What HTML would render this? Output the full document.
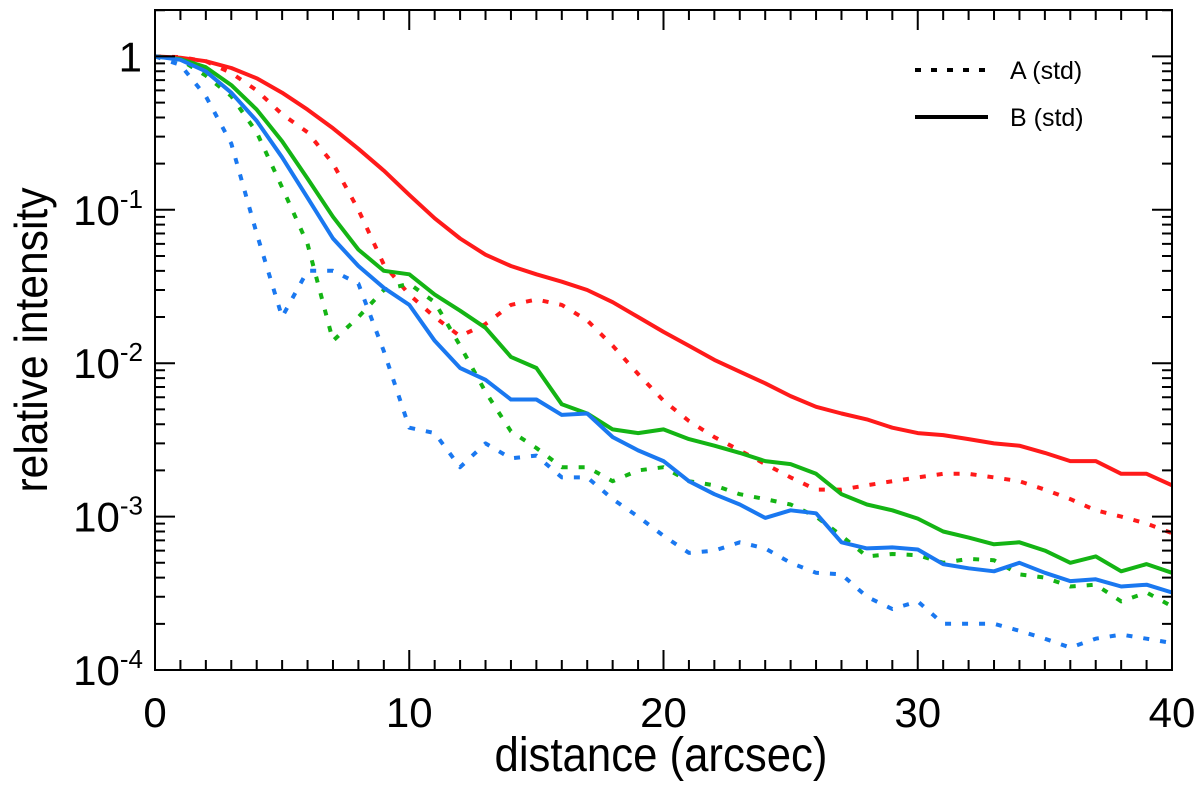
<!DOCTYPE html>
<html><head><meta charset="utf-8"><style>
html,body{margin:0;padding:0;background:#fff;}
svg text{font-family:"Liberation Sans",sans-serif;fill:#000;}
</style></head><body>
<svg id="chart" width="1200" height="784" xmlns="http://www.w3.org/2000/svg">
<g id="series"></g>
<g id="axes"></g>
<g id="legend">
  <line x1="915" y1="70" x2="988" y2="70" stroke="#000" stroke-width="4" stroke-dasharray="6,10"/>
  <text x="1010" y="79" font-size="25">A (std)</text>
  <line x1="915" y1="117" x2="988" y2="117" stroke="#000" stroke-width="4"/>
  <text x="1010" y="126" font-size="25">B (std)</text>
</g>
<text x="661" y="771" font-size="48" text-anchor="middle" textLength="333" lengthAdjust="spacingAndGlyphs">distance (arcsec)</text>
<text transform="translate(47,340) rotate(-90)" font-size="46" text-anchor="middle" textLength="305" lengthAdjust="spacingAndGlyphs">relative intensity</text>
</svg>
<script>
const xs = [];
for (let i = 0; i <= 40; i++) xs.push(i);
const redSolid = [1,.98,.93,.84,.72,.58,.45,.34,.25,.18,.125,.088,.065,.051,.043,.038,.034,.030,.025,.020,.016,.013,.0105,.0088,.0074,.0061,.0052,.0047,.0043,.0038,.0035,.0034,.0032,.003,.0029,.0026,.0023,.0023,.0019,.0019,.0016];
const redDotted = [1,.99,.93,.78,.6,.42,.32,.2,.1,.044,.028,.02,.015,.018,.024,.026,.024,.019,.013,.0085,.0057,.0042,.0033,.0027,.0022,.0018,.0015,.0015,.0016,.0017,.0018,.0019,.0019,.0018,.0017,.0015,.0013,.0011,.001,.0009,.00078];
const greenSolid = [1,.96,.85,.65,.45,.28,.16,.09,.055,.04,.038,.028,.022,.017,.011,.0093,.0054,.0047,.0037,.0035,.0037,.0032,.0029,.0026,.0023,.0022,.0019,.0014,.0012,.0011,.00097,.0008,.00073,.00066,.00068,.0006,.0005,.00055,.00044,.00049,.00043];
const greenDotted = [1,.95,.75,.55,.32,.14,.06,.014,.02,.03,.033,.025,.013,.0065,.0036,.0028,.0021,.0021,.0017,.002,.0021,.0017,.0016,.0014,.0013,.0012,.001,.00075,.00055,.00057,.00056,.0005,.00053,.00052,.00042,.0004,.00035,.00036,.00028,.00032,.00026];
const blueSolid = [1,.95,.8,.58,.38,.22,.12,.065,.043,.031,.024,.014,.0093,.0078,.0058,.0058,.0046,.0047,.0033,.0027,.0023,.0017,.0014,.0012,.00098,.0011,.00105,.00068,.00062,.00063,.00061,.00049,.00046,.00044,.0005,.00043,.00038,.00039,.00035,.00036,.00032];
const blueDotted = [1,.88,.55,.27,.07,.02,.04,.04,.033,.012,.0038,.0035,.0021,.003,.0024,.0025,.0018,.0018,.0013,.001,.00075,.00058,.0006,.00068,.00062,.0005,.00043,.00042,.0003,.00025,.00028,.0002,.0002,.0002,.00018,.00016,.00014,.00016,.00017,.00016,.00015];
const xTicks = [0,10,20,30,40];
const yTicks = [0,-1,-2,-3,-4];

const L=155,R=1172,T=10,B=670;
const xScale = v => L + (v/40)*(R-L);
const yScale = v => 56.4 - 153.4*Math.log10(v);
const NS="http://www.w3.org/2000/svg";
function mk(tag, parent){const e=document.createElementNS(NS,tag);parent.appendChild(e);return e;}

const sg=document.getElementById('series');
function drawSeries(vals, color, dotted, name){
  const p=mk('path',sg);
  
  
  p.setAttribute('d', vals.map((v,i)=>(i?'L':'M')+xScale(xs[i]).toFixed(1)+','+yScale(v).toFixed(1)).join(''));
  p.setAttribute('fill','none');
  p.setAttribute('stroke',color);
  p.setAttribute('stroke-width','4');
  p.setAttribute('stroke-linejoin','round');
  if(dotted) p.setAttribute('stroke-dasharray','6,11');
}
drawSeries(redDotted,'#ff1a1a',true,'red-a-line');
drawSeries(greenDotted,'#14b414',true,'green-a-line');
drawSeries(blueDotted,'#1a78f0',true,'blue-a-line');
drawSeries(redSolid,'#ff1a1a',false,'red-b-line');
drawSeries(greenSolid,'#14b414',false,'green-b-line');
drawSeries(blueSolid,'#1a78f0',false,'blue-b-line');

const ag=document.getElementById('axes');
const fr=mk('rect',ag);


fr.setAttribute('x',L);fr.setAttribute('y',T);fr.setAttribute('width',R-L);fr.setAttribute('height',B-T);
fr.setAttribute('fill','none');fr.setAttribute('stroke','#000');fr.setAttribute('stroke-width','2');
let d='';
for(let i=0;i<=40;i++){
  const x=xScale(i), len=(i%10===0)?20:10;
  d+=`M${x},${B}v${-len}M${x},${T}v${len}`;
}
for(let e=0;e>=-4;e--){
  for(let m=1;m<=9;m++){
    const val=m*Math.pow(10,e);
    const y=yScale(val); if(y<T||y>B) continue;
    const len=(m===1)?20:10;
    d+=`M${L},${y}h${len}M${R},${y}h${-len}`;
  }
}
const tk=mk('path',ag);


tk.setAttribute('d',d);tk.setAttribute('stroke','#000');tk.setAttribute('stroke-width','2');

xTicks.forEach(v=>{
  const t=mk('text',ag);
  
  
  t.setAttribute('x',xScale(v));t.setAttribute('y',727);
  t.setAttribute('font-size','42');t.setAttribute('text-anchor','middle');
  t.textContent=v;
});
yTicks.forEach(e=>{
  const t=mk('text',ag);
  
  
  const y=yScale(Math.pow(10,e))+15;
  t.setAttribute('y',y);t.setAttribute('font-size','42');t.setAttribute('text-anchor','end');
  if(e===0){t.setAttribute('x',142);t.textContent='1';}
  else{
    t.setAttribute('x',143);
    const a=mk('tspan',t);a.textContent='10';
    const s=mk('tspan',t);s.setAttribute('dy','-17');s.setAttribute('font-size','26');s.textContent=String(e);
  }
});
</script>
</body></html>
